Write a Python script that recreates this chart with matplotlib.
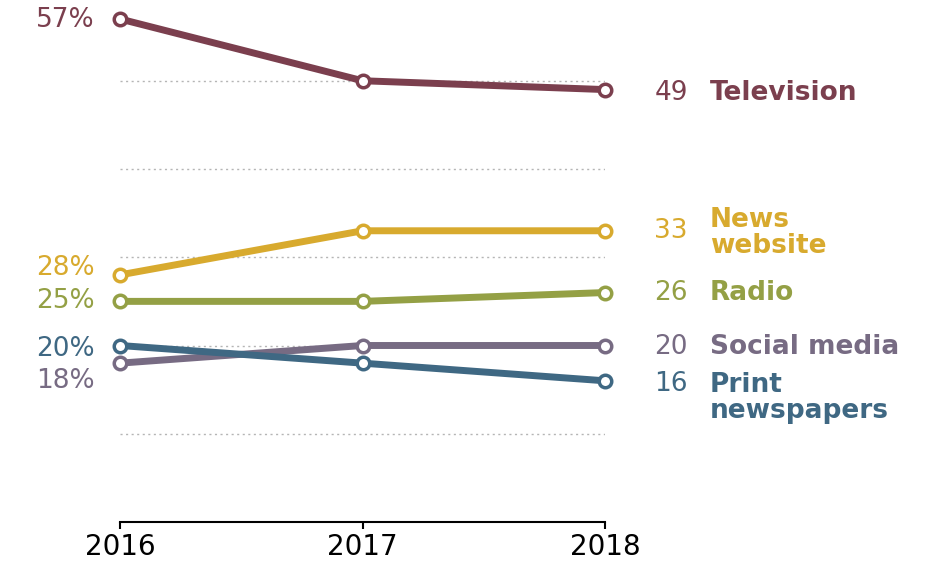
import matplotlib.pyplot as plt

# Share of respondents by source, 2016-2018
years = [2016, 2017, 2018]
television = [57, 50, 49]
news_website = [28, 33, 33]
radio = [25, 25, 26]
social_media = [18, 20, 20]
print_newspapers = [20, 18, 16]

names = ["Television", "News\nwebsite", "Radio", "Social media", "Print\nnewspapers"]
values = [television, news_website, radio, social_media, print_newspapers]
colors = ["#7b3f4e", "#d8aa2e", "#94a045", "#776b83", "#3f6883"]

# vertical nudges (pixels, positive = down) for the start/end value labels
start_nudge = [1, -7, 0, 18, 3]
end_nudge = [3, 0, 0, 1, 3]
name_nudge = [3, 2, 0, 1, 17]

PX = 72 / 100  # points per pixel at dpi=100

plt.rcParams["font.family"] = ["DejaVu Sans"]

fig = plt.figure(figsize=(9.37, 5.63), dpi=100)
ymax = 58
ax = fig.add_axes([120 / 937, 41 / 563, 485 / 937, ymax * 8.825 / 563])
ax.set_xlim(2016, 2018)
ax.set_ylim(0, ymax)

for side in ["left", "top", "right"]:
    ax.spines[side].set_visible(False)
ax.spines["bottom"].set_color("black")
ax.spines["bottom"].set_linewidth(1.5)
ax.set_yticks([])
ax.set_xticks(years, labels=[str(y) for y in years])
ax.tick_params(axis="x", direction="out", length=5, width=1.5, pad=3,
               labelsize=20, colors="black")

ax.hlines([10, 20, 30, 40, 50], 2016, 2018, colors="#b5b5b5",
          linestyles=(0, (1.5, 2.5)), linewidth=1, zorder=1)

for name, vals, color, sn, en, nn in zip(names, values, colors,
                                         start_nudge, end_nudge, name_nudge):
    ax.plot(years, vals, color=color, lw=5, marker="o", ms=9, mfc="white",
            mec=color, mew=2.5, solid_capstyle="round", zorder=3, clip_on=False)
    ax.annotate(f"{vals[0]}%", (years[0], vals[0]), xytext=(-25 * PX, -sn * PX),
                textcoords="offset points", ha="right", va="center",
                fontsize=19, color=color, annotation_clip=False)
    ax.annotate(f"{vals[-1]}", (years[-1], vals[-1]), xytext=(83 * PX, -en * PX),
                textcoords="offset points", ha="right", va="center",
                fontsize=19, color=color, annotation_clip=False)
    ax.annotate(name, (years[-1], vals[-1]), xytext=(105 * PX, -nn * PX),
                textcoords="offset points", ha="left", va="center",
                fontsize=19, fontweight="bold", color=color, linespacing=1.0,
                annotation_clip=False)

fig.savefig("out.png", dpi=100)
